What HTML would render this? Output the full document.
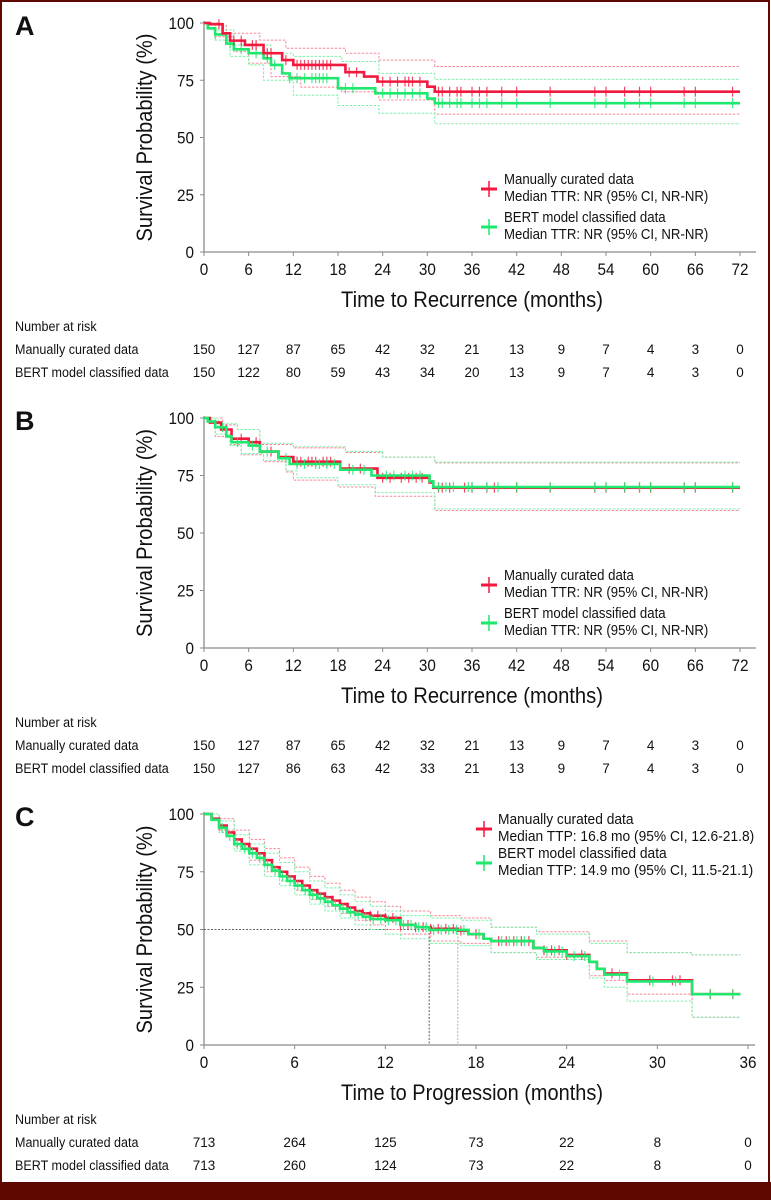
<!DOCTYPE html>
<html><head><meta charset="utf-8"><style>
html,body{margin:0;padding:0;background:#fff}
svg{display:block}
text{font-family:"Liberation Sans",sans-serif;fill:#111}
</style></head><body>
<svg id="fig" width="771" height="1200" viewBox="0 0 771 1200" xmlns="http://www.w3.org/2000/svg">
<rect x="0" y="0" width="771" height="1200" fill="#fff"/>
<g id="root"></g>
<rect x="1" y="1" width="768" height="1198" fill="none" stroke="#5e0800" stroke-width="2"/>
<rect x="0" y="1182" width="771" height="18" fill="#5e0800"/>
</svg>
<script>
// ---------- Panel A data ----------
const aRedT=[0,0.8,2.5,3.5,5.5,8,10.5,12,19,21.5,23.3,30,31];
const aRedS=[100,99.5,95.5,92.3,90.4,86.8,83.8,81.7,78.5,76.6,74.4,72.2,70];
const aGrnT=[0,0.5,1.5,3,4,6,8,9,10.5,11.5,18,23,30,31];
const aGrnS=[100,97.7,95,91,88.5,86.8,84.6,81.7,78,75.9,71.5,69.3,67,65];
const aRedUT=[0,1,2,3,7.5,11,19,23.5,31];
const aRedUS=[100,100,99,95.5,92.5,89,86.8,83.8,81];
const aGrnUT=[0,1,4,9,12,18.5,23.5,31];
const aGrnUS=[100,97,90.4,86.8,85.4,83.2,78,75.4];
const aRedLT=[0,1.5,4,6,9,13,18.5,23.5,31];
const aRedLS=[100,94,87.5,82.5,76.6,72,70,66.4,60.2];
const aGrnLT=[0,1.5,3.5,6,8,12,18,23.5,31];
const aGrnLS=[100,92.5,85.4,81.7,75,68.5,64,60.6,56];
const aRedC=[2,4,5,6.5,7,8.5,9,11,12.5,13,13.5,14,14.5,15,15.5,16,16.5,17,19.5,20.5,24,25,26,27,27.5,28,29,31.5,32,33,34,34.5,36,37,38,40,42,46.5,52.5,54,56.5,58.5,60,64.5,66,71];
const aGrnC=[1.5,3.5,5,7,8.5,9.5,11.5,12.5,13.5,14.5,15,15.5,16,16.5,19,20,24,25,26,27,28,29,31.5,32,33,34,34.5,36,37,38,40,42,46.5,52.5,54,56.5,58.5,60,64.5,66,71];
const aRisk1=["150","127","87","65","42","32","21","13","9","7","4","3","0"];
const aRisk2=["150","122","80","59","43","34","20","13","9","7","4","3","0"];
// ---------- Panel B data ----------
const bRedT=[0,0.8,2.3,3.7,6,7.5,10,12,18.3,23.3,30.3,30.8];
const bRedS=[100,98,95,91,89.5,85.4,83,81,78,74,72,69.7];
const bGrnT=[0,0.5,1.5,3,3.7,6,7.5,10,11.5,18.3,22.5,30.3,30.8];
const bGrnS=[100,98.5,96,92,89.5,88,85.4,82.5,80,77.5,75,72.5,70];
const bRedUT=[0,2.5,4.5,7.5,12,19,24,31];
const bRedUS=[100,97,95,88.5,87,85,83,80.5];
const bGrnUT=[0,2,4.5,7.5,12,19,24,31];
const bGrnUS=[100,97.5,95,89,87.5,85.5,83,80.8];
const bRedLT=[0,1.5,3.5,5,8,11,12,18,23,31];
const bRedLS=[100,92,88.5,84,81,76.5,73,70,66,59.8];
const bGrnLT=[0,1.5,3.5,5,8,11,12.5,18,23,31];
const bGrnLS=[100,93,88,84.5,81.5,77,74,71,67.5,60.5];
const bRedC=[3,5,7,9,12.5,13,14,14.5,15,16,16.5,17,19.5,21,24,25,26.5,27.5,28.5,29.3,31.5,32,33,35,36,38,39,42,46.5,52.5,54,56.5,58.5,60,64.5,66,71];
const bGrnC=[2.5,4.5,6.5,8.5,11,12.5,13.5,15,15.5,16.5,17.5,20,21.5,24.5,25.5,27,28,29,31.5,32.5,33.5,35.5,36,38,39.5,42,46.5,52.5,54,56.5,58.5,60,64.5,66,71];
const bRisk1=["150","127","87","65","42","32","21","13","9","7","4","3","0"];
const bRisk2=["150","127","86","63","42","33","21","13","9","7","4","3","0"];
// ---------- Panel C data ----------
const cRedT=[0,0.5,1,1.5,2,2.5,3,3.5,4,4.5,5,5.5,6,6.5,7,7.5,8,8.5,9,9.5,10,10.5,11,12,13,14,15,16.8,17.5,18.5,19,21.8,22.5,24,25.5,26,26.5,28,32.3];
const cRedS=[100,98,95,92,89,87,85,83,80,77,75,73,71,69,67,65.5,64,62.5,61,59.5,58,57,56,55,52,51,50.3,49.5,48,46,45,42,41,39,36,33,31,28,22];
const cGrnT=[0,0.5,1,1.5,2,2.5,3,3.5,4,4.5,5,5.5,6,6.5,7,7.5,8,8.5,9,9.5,10,10.5,11,12,13,14,14.9,17.5,18.5,19,21.8,22.5,24,25.5,26,26.5,28,32.3];
const cGrnS=[100,97.5,94,90.5,87,85,83,81,78,75.5,73,71,69,67,65,63.5,62,60.5,59,57.5,56.5,55.5,54.5,54,52,51,49.8,48,46,45,42,40.5,38.5,36,33,30.5,27.5,22];
const cRedUT=[0,1,2,3,4,5,6,7,8,9,10,11,12,13,15,17,19,22,25.5,28,32.3];
const cRedUS=[100,98,93,89,85,81,77,73,70,67,64,62,60,58,56,55,51,49,45,40,39];
const cRedLT=[0,1,2,3,4,5,6,7,8,9,10,11,12,13,15,17,19,22,25.5,26.5,28,32.3];
const cRedLS=[100,93,86,80,75,71,67,63,60,57,54,52,50,48,45,44,40,38,30,28,22,12];
const cGrnUT=[0,1,2,3,4,5,6,7,8,9,10,11,12,13,15,17,19,22,25.5,28,32.3];
const cGrnUS=[100,97,91,87,83,79,75,71,68,65,62,60,58,56,55,54,51,48,44,40,39];
const cGrnLT=[0,1,2,3,4,5,6,7,8,9,10,11,12,13,15,17,19,22,25.5,26.5,28,32.3];
const cGrnLS=[100,92,84,78,73,69,65,61,58,55,52,50,48,46,44,43,40,37,29,25,19,12];
const cRedC=[1,1.5,2,2.5,3,3.5,4,4.5,5,5.5,6,6.5,7,7.5,8,8.5,9,9.5,10,10.5,11,11.5,12,12.5,13,13.5,14,14.5,15,15.5,16,16.5,17,18,19.5,20,20.5,21,21.5,22.5,23,23.5,24,25,27,29.5,31,31.5,33.5,35];
const cGrnC=[1.2,1.7,2.2,2.7,3.2,3.7,4.2,4.7,5.2,5.7,6.2,6.7,7.2,7.7,8.2,8.7,9.2,9.7,10.2,10.7,11.2,11.7,12.2,12.7,13.2,13.7,14.2,14.7,15.2,15.7,16.2,16.7,17.2,18.2,19.7,20.2,20.7,21.2,22.7,23.2,23.7,24.5,25.2,27.5,29.7,31.2,33.5,35];
const cRisk1=["713","264","125","73","22","8","0"];
const cRisk2=["713","260","124","73","22","8","0"];
const cMedians=[14.9,16.8];

const xTicksA=[0,6,12,18,24,30,36,42,48,54,60,66,72];
const xTicksC=[0,6,12,18,24,30,36];
const yTicks=[0,25,50,75,100];

const NS="http://www.w3.org/2000/svg";
const root=document.getElementById('root');
const RED="#f2193f", GRN="#1ee86e", REDL="#f7889a", GRNL="#7cf0a8";
function el(tag,attrs,parent){const e=document.createElementNS(NS,tag);for(const k in attrs)e.setAttribute(k,attrs[k]);(parent||root).appendChild(e);return e;}
function txt(s,attrs,parent){const e=el('text',attrs,parent);e.textContent=s;return e;}
function squeeze(e,f){const w=e.getComputedTextLength();if(w>0){e.setAttribute('textLength',(w*f).toFixed(1));e.setAttribute('lengthAdjust','spacingAndGlyphs');}}
function stepAt(T,S,t){let v=S[0];for(let i=0;i<T.length;i++){if(T[i]<=t)v=S[i];}return v;}

function panel(cfg){
  const g=el('g',{});
  
  
  const X=t=>cfg.x0+(t/cfg.tmax)*(cfg.x1-cfg.x0);
  const Y=s=>cfg.y0-(s/100)*(cfg.y0-cfg.y100);
  const lab=txt(cfg.id.toUpperCase(),{x:15,y:cfg.y100+12,'font-size':27,'font-weight':'bold'},g);
  
  
  const ax=el('path',{d:`M${cfg.x0} ${cfg.y100-2} V${cfg.y0} H${cfg.axEnd}`,stroke:'#8a8a8a','stroke-width':1.3,fill:'none'},g);
  
  
  yTicks.forEach(v=>{
    el('line',{x1:cfg.x0-4,x2:cfg.x0,y1:Y(v),y2:Y(v),stroke:'#8a8a8a'},g);
    const t=txt(String(v),{x:cfg.x0-10,y:Y(v)+6,'font-size':17,'text-anchor':'end'},g);
    
    
    squeeze(t,0.9);
  });
  cfg.ticks.forEach(v=>{
    el('line',{x1:X(v),x2:X(v),y1:cfg.y0,y2:cfg.y0+4,stroke:'#8a8a8a'},g);
    const t=txt(String(v),{x:X(v),y:cfg.y0+23,'font-size':17,'text-anchor':'middle'},g);
    
    
    squeeze(t,0.9);
  });
  const yt=txt('Survival Probability (%)',{x:0,y:0,'font-size':22,'text-anchor':'middle',textLength:208,lengthAdjust:'spacingAndGlyphs',transform:`translate(152 ${(cfg.y0+cfg.y100)/2}) rotate(-90)`},g);
  
  
  const xt=txt(cfg.xtitle,{x:cfg.xtx,y:cfg.y0+55,'font-size':22,'text-anchor':'middle',textLength:cfg.xtw,lengthAdjust:'spacingAndGlyphs'},g);
  
  
  if(cfg.medians){
    const pts=cfg.medians.map(X);
    const h=el('path',{d:`M${cfg.x0} ${Y(50)} H${Math.max(...pts)}`,stroke:'#333','stroke-width':0.8,'stroke-dasharray':'2 1.5',fill:'none'},g);
    
    
    cfg.medians.forEach((m,i)=>{
      const v=el('path',{d:`M${X(m)} ${Y(50)} V${cfg.y0}`,stroke:i?'#999':'#333','stroke-width':0.8,'stroke-dasharray':'2 1.5',fill:'none'},g);
      
      
    });
  }
  function step(T,S,color,w,dash,name){
    let d=`M${X(T[0])} ${Y(S[0])}`;
    for(let i=1;i<T.length;i++){d+=` H${X(T[i])} V${Y(S[i])}`;}
    d+=` H${X(cfg.tend)}`;
    const p=el('path',{d:d,stroke:color,'stroke-width':w,fill:'none','stroke-dasharray':dash||'none'},g);
    
    
  }
  function censor(C,T,S,color,name){
    C.forEach(t=>{
      const y=Y(stepAt(T,S,t));
      const c=el('line',{x1:X(t),x2:X(t),y1:y-5,y2:y+5,stroke:color,'stroke-width':1.2,opacity:0.8},g);
      
      
    });
  }
  step(cfg.rU[0],cfg.rU[1],REDL,1,'2.5 1.5','red-ci-upper');
  step(cfg.rL[0],cfg.rL[1],REDL,1,'2.5 1.5','red-ci-lower');
  step(cfg.gU[0],cfg.gU[1],GRNL,1,'2.5 1.5','green-ci-upper');
  step(cfg.gL[0],cfg.gL[1],GRNL,1,'2.5 1.5','green-ci-lower');
  const order=cfg.greenOnTop?['r','g']:['g','r'];
  order.forEach(k=>{
    if(k==='r'){step(cfg.r[0],cfg.r[1],RED,2.6,null,'manually-curated-curve');censor(cfg.rC,cfg.r[0],cfg.r[1],RED,'censor-mark');}
    else{step(cfg.gr[0],cfg.gr[1],GRN,2.6,null,'bert-curve');censor(cfg.gC,cfg.gr[0],cfg.gr[1],GRN,'censor-mark');}
  });
  const lg=el('g',{},g);
  
  
  const L=cfg.leg;
  [[RED,L.y1,'Manually curated data',cfg.med1],[GRN,L.y2,'BERT model classified data',cfg.med2]].forEach(([c,y,a,b],i)=>{
    const e=el('g',{},lg);
    
    
    el('line',{x1:L.mx-8,x2:L.mx+8,y1:y+8,y2:y+8,stroke:c,'stroke-width':3},e);
    el('line',{x1:L.mx,x2:L.mx,y1:y,y2:y+16,stroke:c,'stroke-width':1.5},e);
    const t1=txt(a,{x:L.tx,y:y+3,'font-size':14.5},e);
    const t2=txt(b,{x:L.tx,y:y+L.gap+3,'font-size':14.5},e);
    squeeze(t1,L.sq);squeeze(t2,L.sq);
  });
  const rt=el('g',{},g);
  
  
  [['Number at risk',0],['Manually curated data',23],['BERT model classified data',46]].forEach(([s,dy])=>{
    const t=txt(s,{x:15,y:cfg.ry+dy,'font-size':13.5},rt);
    squeeze(t,0.93);
  });
  cfg.risk1.forEach((v,i)=>{
    const a=txt(v,{x:X(i*cfg.riskStep),y:cfg.ry+23,'font-size':13.5,'text-anchor':'middle'},rt);
    
    
  });
  cfg.risk2.forEach((v,i)=>{
    const a=txt(v,{x:X(i*cfg.riskStep),y:cfg.ry+46,'font-size':13.5,'text-anchor':'middle'},rt);
    
    
  });
}

panel({id:'a',x0:204,x1:740,axEnd:756,tmax:72,tend:72,y100:23,y0:252,ticks:xTicksA,
  xtitle:'Time to Recurrence (months)',xtx:472,xtw:262,
  r:[aRedT,aRedS],gr:[aGrnT,aGrnS],rU:[aRedUT,aRedUS],rL:[aRedLT,aRedLS],gU:[aGrnUT,aGrnUS],gL:[aGrnLT,aGrnLS],
  rC:aRedC,gC:aGrnC,greenOnTop:false,
  leg:{mx:489,tx:504,y1:181,y2:219,gap:17,sq:0.91},med1:'Median TTR: NR (95% CI, NR-NR)',med2:'Median TTR: NR (95% CI, NR-NR)',
  ry:331,risk1:aRisk1,risk2:aRisk2,riskStep:6});
panel({id:'b',x0:204,x1:740,axEnd:756,tmax:72,tend:72,y100:418,y0:648,ticks:xTicksA,
  xtitle:'Time to Recurrence (months)',xtx:472,xtw:262,
  r:[bRedT,bRedS],gr:[bGrnT,bGrnS],rU:[bRedUT,bRedUS],rL:[bRedLT,bRedLS],gU:[bGrnUT,bGrnUS],gL:[bGrnLT,bGrnLS],
  rC:bRedC,gC:bGrnC,greenOnTop:true,
  leg:{mx:489,tx:504,y1:577,y2:615,gap:17,sq:0.91},med1:'Median TTR: NR (95% CI, NR-NR)',med2:'Median TTR: NR (95% CI, NR-NR)',
  ry:727,risk1:bRisk1,risk2:bRisk2,riskStep:6});
panel({id:'c',x0:204,x1:748,axEnd:755,tmax:36,tend:35.5,y100:814,y0:1045,ticks:xTicksC,
  xtitle:'Time to Progression (months)',xtx:472,xtw:262,
  r:[cRedT,cRedS],gr:[cGrnT,cGrnS],rU:[cRedUT,cRedUS],rL:[cRedLT,cRedLS],gU:[cGrnUT,cGrnUS],gL:[cGrnLT,cGrnLS],
  rC:cRedC,gC:cGrnC,greenOnTop:true,medians:cMedians,
  leg:{mx:484,tx:498,y1:821,y2:855,gap:17,sq:0.95},med1:'Median TTP: 16.8 mo (95% CI, 12.6-21.8)',med2:'Median TTP: 14.9 mo (95% CI, 11.5-21.1)',
  ry:1124,risk1:cRisk1,risk2:cRisk2,riskStep:6});
</script>
</body></html>
